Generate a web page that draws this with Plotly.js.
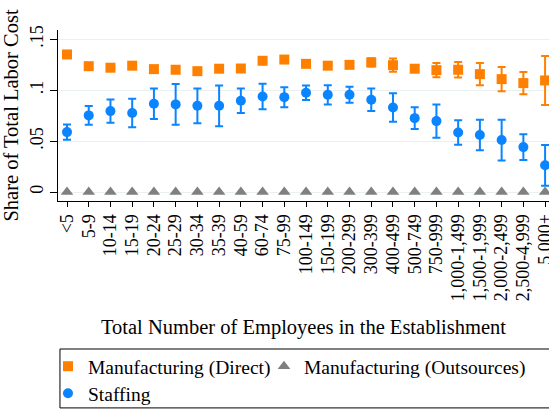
<!DOCTYPE html>
<html>
<head>
<meta charset="utf-8">
<script src="https://cdn.plot.ly/plotly-3.0.1.min.js"></script>
<style>html,body{margin:0;padding:0;background:#fff;}#chart{width:549px;height:409px;}</style>
</head>
<body>
<div id="chart"></div>
<script>
const categories = ["<5","5-9","10-14","15-19","20-24","25-29","30-34","35-39","40-59","60-74","75-99","100-149","150-199","200-299","300-399","400-499","500-749","750-999","1,000-1,499","1,500-1,999","2,000-2,499","2,500-4,999","5,000+"];
const directValues = [0.135,0.1235,0.122,0.124,0.1206,0.120,0.1186,0.121,0.1212,0.1288,0.130,0.1258,0.124,0.1248,0.1272,0.1245,0.121,0.1196,0.120,0.1157,0.1108,0.1069,0.1095];
const directErrors = [0.002,0.002,0.002,0.002,0.002,0.002,0.002,0.002,0.002,0.003,0.003,0.002,0.003,0.002,0.004,0.0065,0.003,0.007,0.0077,0.011,0.012,0.011,0.024];
const outsourcedValues = [0,0,0,0,0,0,0,0,0,0,0,0,0,0,0,0,0,0,0,0,0,0,0];
const staffingValues = [0.0588,0.0752,0.0794,0.0775,0.0866,0.086,0.0846,0.0846,0.0895,0.0938,0.0931,0.0974,0.0954,0.0954,0.0905,0.083,0.0725,0.0696,0.0585,0.0559,0.051,0.0441,0.0262];
const staffingErrors = [0.0075,0.0092,0.0114,0.014,0.015,0.020,0.017,0.020,0.012,0.0125,0.0098,0.0072,0.0095,0.0078,0.011,0.014,0.0106,0.0163,0.012,0.015,0.020,0.0127,0.020];

const xIdx = categories.map((c,i)=>i);
const FONT = "Liberation Serif, Times New Roman, serif";
const ORANGE = "#ff8000", BLUE = "#0a84ff", GRAY = "#808080";

const traces = [
  {x:xIdx, y:directValues, type:"scatter", mode:"markers", name:"Manufacturing (Direct)",
   legend:"legend", legendwidth:171,
   marker:{symbol:"square", size:10, color:ORANGE},
   error_y:{type:"data", array:directErrors, visible:true, color:ORANGE, thickness:2, width:4},
   cliponaxis:false},
  {x:xIdx, y:outsourcedValues, type:"scatter", mode:"markers", name:"Manufacturing (Outsources)",
   legend:"legend",
   marker:{symbol:"triangle-up", size:11, color:GRAY}, cliponaxis:false},
  {x:xIdx, y:staffingValues, type:"scatter", mode:"markers", name:"Staffing",
   legend:"legend2",
   marker:{symbol:"circle", size:10, color:BLUE},
   error_y:{type:"data", array:staffingErrors, visible:true, color:BLUE, thickness:2, width:4},
   cliponaxis:false}
];

const legendFont = {family:FONT, size:19.5, color:"#000"};
const layout = {
  width:549, height:409,
  margin:{l:58, r:0, t:30, b:208, autoexpand:false},
  paper_bgcolor:"#fff", plot_bgcolor:"#fff",
  font:{family:FONT, size:18, color:"#000"},
  showlegend:true,
  legend:{orientation:"h", x:-0.0204, xanchor:"left", y:-0.854, yanchor:"top",
          bgcolor:"rgba(0,0,0,0)", borderwidth:0, font:legendFont,
          itemwidth:30, tracegroupgap:0},
  legend2:{orientation:"h", x:-0.0204, xanchor:"left", y:-1.012, yanchor:"top",
          bgcolor:"rgba(0,0,0,0)", borderwidth:0, font:legendFont,
          itemwidth:30, tracegroupgap:0},
  shapes:[{type:"rect", xref:"paper", yref:"paper", x0:0.004, x1:1.05, y0:-0.8655, y1:-1.21,
           line:{color:"#000", width:1}, fillcolor:"rgba(0,0,0,0)", layer:"below"}],
  xaxis:{range:[-0.414,22.18], tickmode:"array", tickvals:xIdx, ticktext:categories,
         tickangle:-90, ticks:"outside", ticklen:5, tickcolor:"#000", showgrid:false,
         zeroline:false, showline:true, linecolor:"#000", linewidth:1,
         ticklabeloverflow:"allow",
         tickfont:{family:FONT, size:18},
         title:{text:"Total Number of Employees in the Establishment", font:{family:FONT, size:20.5}, standoff:19}},
  yaxis:{range:[-0.0088,0.159], tickvals:[0,0.05,0.1,0.15], ticktext:["0",".05",".1",".15"],
         tickangle:-90, ticks:"outside", ticklen:7, tickcolor:"#000",
         showgrid:true, gridcolor:"#e8f0f2", gridwidth:1, zeroline:false,
         showline:true, linecolor:"#000", linewidth:1, tickfont:{family:FONT, size:18},
         title:{text:"Share of Total Labor Cost", font:{family:FONT, size:20.5}, standoff:2}}
};

Plotly.newPlot("chart", traces, layout, {displayModeBar:false, staticPlot:true});
</script>
</body>
</html>
